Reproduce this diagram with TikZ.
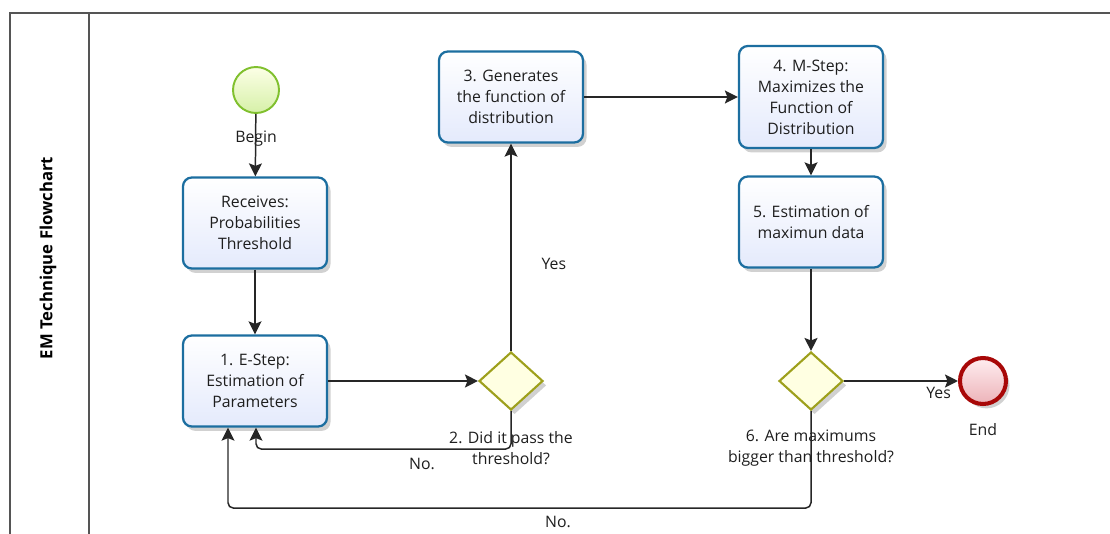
\documentclass[tikz,border=0pt]{standalone}
\usepackage{fontspec}
\setmainfont{Open Sans}
\usetikzlibrary{calc,arrows.meta,positioning,shapes.geometric,shadows}
\definecolor{taskblue}{RGB}{28,110,160}
\definecolor{taskfill}{RGB}{228,234,252}
\definecolor{gateolive}{RGB}{158,160,28}
\definecolor{gatefill}{RGB}{255,255,226}
\definecolor{startgreen}{RGB}{128,192,46}
\definecolor{starttop}{RGB}{252,255,230}
\definecolor{startbot}{RGB}{214,240,168}
\definecolor{endred}{RGB}{168,8,8}
\definecolor{endtop}{RGB}{255,238,240}
\definecolor{endbot}{RGB}{236,178,184}
\definecolor{lanegray}{RGB}{85,85,85}
\definecolor{txtgray}{RGB}{30,30,30}
\tikzset{
  bptask/.style={rectangle, rounded corners=5pt, draw=taskblue, line width=1.3pt,
                 top color=white, bottom color=taskfill,
                 minimum width=2.88cm, minimum height=1.82cm, inner sep=2pt,
                 align=center, text=txtgray, font=\fontsize{9}{12}\selectfont,
                 drop shadow={shadow xshift=2pt, shadow yshift=-2.5pt,
                              fill=black, opacity=0.18}},
  bpgate/.style={diamond, draw=gateolive, fill=gatefill, line width=1.2pt,
                 minimum width=1.28cm, minimum height=1.16cm, inner sep=0pt,
                 drop shadow={shadow xshift=2pt, shadow yshift=-2.5pt,
                               fill=black, opacity=0.18}},
  bpstart/.style={circle, draw=startgreen, line width=1.1pt,
                  top color=starttop, bottom color=startbot,
                  minimum size=0.92cm, inner sep=0pt},
  bpend/.style={circle, draw=endred, line width=2.3pt,
                top color=endtop, bottom color=endbot,
                minimum size=0.92cm, inner sep=0pt,
                drop shadow={shadow xshift=2pt, shadow yshift=-2.5pt,
                             fill=black, opacity=0.18}},
  bplabel/.style={align=center, text=txtgray, inner sep=1pt,
                  font=\fontsize{9}{12}\selectfont},
  bpflow/.style={-{Stealth[length=2.6mm, width=2.6mm, inset=0.5mm]},
                 line width=0.85pt, black!85},
  bploop/.style={bpflow, rounded corners=3pt},
  lane/.style={line width=1.1pt, lanegray},
}
\begin{document}
\begin{tikzpicture}[x=0.02cm, y=-0.02cm]
  \useasboundingbox (0,0) rectangle (1110,534);
  \draw[lane] (10,534) -- (10,13) -- (1110,13);
  \draw[lane] (89,13) -- (89,534);
  \node[rotate=90, text=black, font=\bfseries\fontsize{9.5}{11}\selectfont] (lanetitle) at (48,258) {EM Technique Flowchart};

  \node[bpstart] (begin) at (256,90) {};
  \node[bptask] (recv) at (255,223) {Receives:\\Probabilities\\Threshold};
  \node[bptask] (estep) at (255,381) {1. E-Step:\\Estimation of\\Parameters};
  \node[bpgate] (passgate) at (511,381) {};
  \node[bptask] (genfun) at (511,97) {3. Generates\\the function of\\distribution};
  \node[bptask, minimum height=2.04cm] (mstep) at (811,97) {4. M-Step:\\Maximizes the\\Function of\\Distribution};
  \node[bptask] (maxest) at (811,222) {5. Estimation of\\maximun data};
  \node[bpgate] (maxgate) at (811,381) {};
  \node[bpend] (finish) at (983,381) {};

  \node[bplabel] (beginlbl) at (256,139) {Begin};
  \node[bplabel] (passlbl) at (511,448) {2. Did it pass the\\threshold?};
  \node[bplabel] (maxlbl) at (811,448) {6. Are maximums\\bigger than threshold?};
  \node[bplabel] (endlbl) at (983,430) {End};

  \draw[bpflow] (begin) -- (recv);
  \draw[bpflow] (recv) -- (estep);
  \draw[bpflow] (estep) -- (passgate);
  \draw[bpflow] (passgate) -- node[bplabel, pos=0.42, right=16pt] (yesgen) {Yes} (genfun);
  \draw[bpflow] (genfun) -- (mstep);
  \draw[bpflow] (mstep) -- (maxest);
  \draw[bpflow] (maxest) -- (maxgate);
  \draw[bpflow] (maxgate) -- node[bplabel, pos=0.83, below=2pt] (yesend) {Yes} (finish);
  \draw[bploop] (passgate.south) -- ++(0,38) -| ($(estep.south)+(1,0)$);
  \draw[bploop] (maxgate.south) -- ++(0,97) -| ($(estep.south)+(-27,0)$);
  \node[bplabel] (nopass) at (422,464) {No.};
  \node[bplabel] (nomax) at (558,522) {No.};
\end{tikzpicture}
\end{document}
